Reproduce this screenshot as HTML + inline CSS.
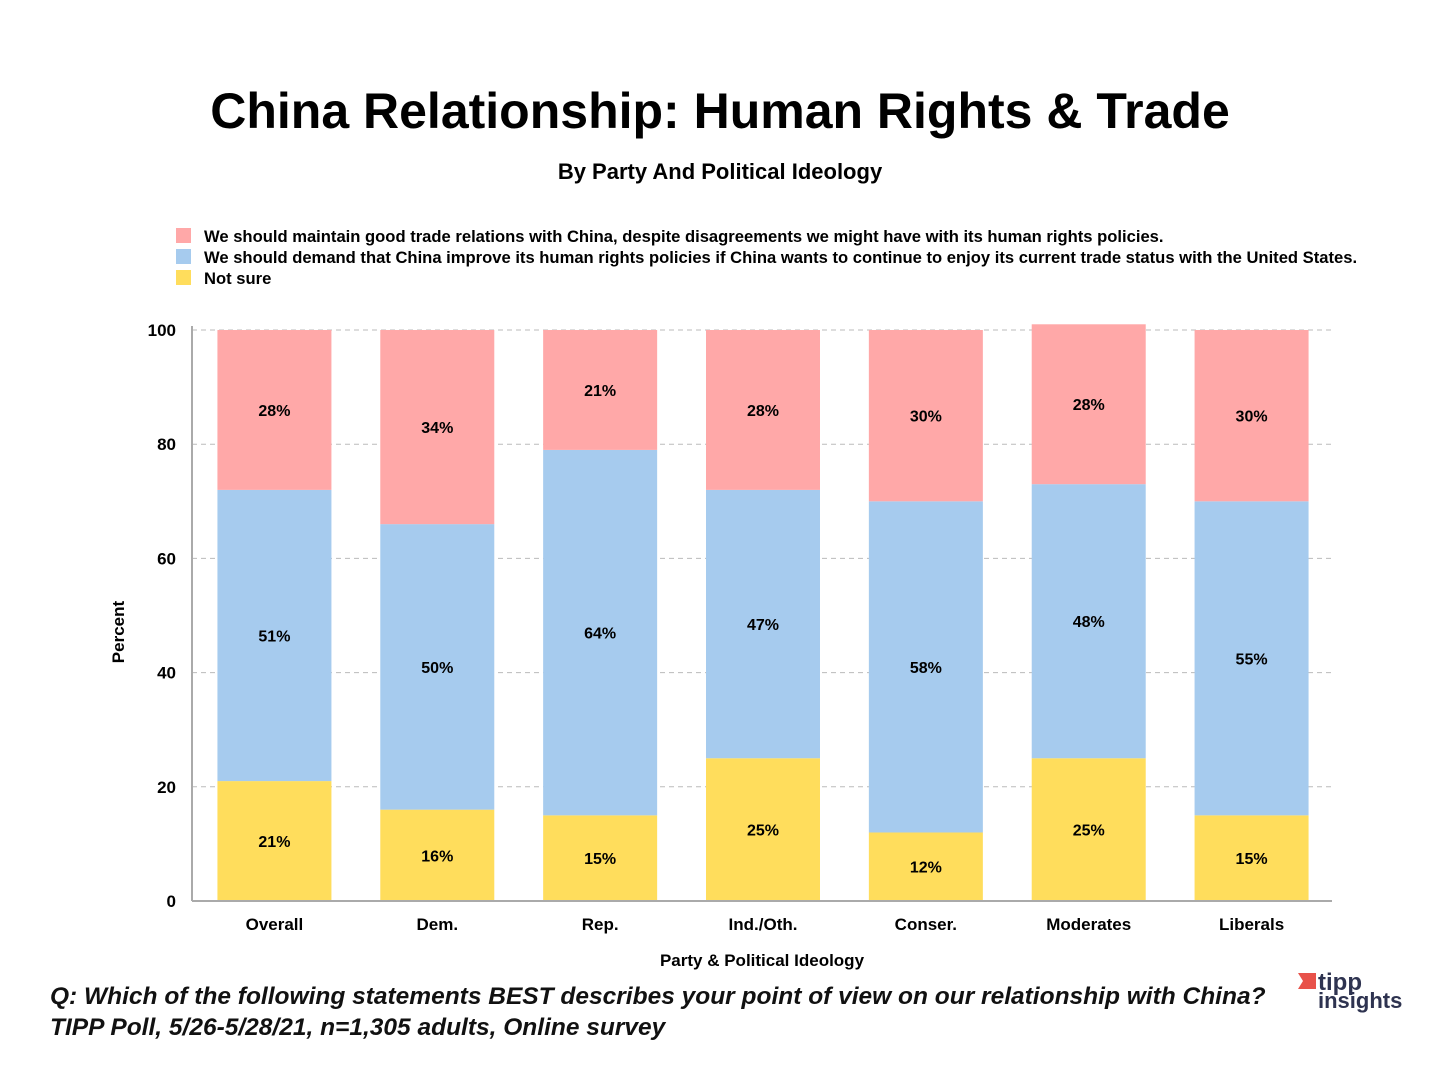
<!DOCTYPE html>
<html><head><meta charset="utf-8"><style>
body{margin:0;background:#fff;width:1440px;height:1080px;overflow:hidden;font-family:"Liberation Sans",sans-serif}
</style></head><body>
<svg width="1440" height="1080" xmlns="http://www.w3.org/2000/svg">
<text x="720" y="128" text-anchor="middle" font-size="50" font-weight="bold" fill="#000">China Relationship:  Human Rights &amp; Trade</text>
<text x="720" y="179" text-anchor="middle" font-size="22" font-weight="bold" fill="#000">By Party And Political Ideology</text>
<g font-size="16.6" font-weight="bold">
<rect x="176" y="228" width="15" height="15" fill="#FFA8A8"/>
<text x="204" y="242">We should maintain good trade relations with China, despite disagreements we might have with its human rights policies.</text>
<rect x="176" y="249" width="15" height="15" fill="#A6CBEE"/>
<text x="204" y="263">We should demand that China improve its human rights policies if China wants to continue to enjoy its current trade status with the United States.</text>
<rect x="176" y="270" width="15" height="15" fill="#FFDD5C"/>
<text x="204" y="284">Not sure</text>
</g>
<g id="grid"></g><g id="bars"></g><g id="axes"></g>
<text x="762" y="966" text-anchor="middle" font-size="17" font-weight="bold">Party &amp; Political Ideology</text>
<text transform="translate(124,632) rotate(-90)" text-anchor="middle" font-size="17" font-weight="bold">Percent</text>
<g font-size="24.5" font-style="italic" font-weight="bold" fill="#111">
<text x="50" y="1004">Q:  Which of the following statements BEST describes your point of view on our relationship with China?</text>
<text x="50" y="1035">TIPP Poll, 5/26-5/28/21, n=1,305 adults, Online survey</text>
</g>
<g>
<path d="M1298 973 h18 v16 h-18 l5 -8 z" fill="#E8524A"/>
<text x="1318" y="990" font-size="24" font-weight="bold" fill="#2E3350">tipp</text>
<text x="1318" y="1008" font-size="22" font-weight="bold" fill="#2E3350">insights</text>
</g>
</svg>
<script>
const categories=["Overall","Dem.","Rep.","Ind./Oth.","Conser.","Moderates","Liberals"];
const notSure=[21,16,15,25,12,25,15];
const demand=[51,50,64,47,58,48,55];
const maintain=[28,34,21,28,30,28,30];
const yTicks=[0,20,40,60,80,100];
const NS="http://www.w3.org/2000/svg";
const x0=192,x1=1332,yTop=330,yBot=901;
const y=v=>yBot-(v/100)*(yBot-yTop);
const step=(x1-x0)/categories.length;
const cx=i=>x0+step*(i+0.5)+1;
const bw=114;
function mk(tag,attrs,parent){const e=document.createElementNS(NS,tag);for(const k in attrs)e.setAttribute(k,attrs[k]);document.getElementById(parent).appendChild(e);return e;}
yTicks.forEach(t=>{
 if(t>0){const l=mk('line',{x1:x0,x2:x1,y1:y(t),y2:y(t),stroke:'#bbb','stroke-dasharray':'5,4'},'grid');
 
 }
 const tx=mk('text',{x:176,y:y(t)+6,'text-anchor':'end','font-size':17,'font-weight':'bold'},'axes');tx.textContent=t;
 
 
});
const series=[[notSure,'#FFDD5C','notsure'],[demand,'#A6CBEE','demand'],[maintain,'#FFA8A8','maintain']];
categories.forEach((c,i)=>{
 let base=0;
 series.forEach(([arr,col,nm])=>{
  const v=arr[i];
  const r=mk('rect',{x:cx(i)-bw/2,y:y(base+v),width:bw,height:y(base)-y(base+v),fill:col},'bars');
  
  
  const t=mk('text',{x:cx(i),y:(y(base)+y(base+v))/2+6,'text-anchor':'middle','font-size':16,'font-weight':'bold'},'bars');
  t.textContent=v+'%';
  
  
  base+=v;
 });
 const xl=mk('text',{x:cx(i),y:930,'text-anchor':'middle','font-size':17,'font-weight':'bold'},'axes');
 xl.textContent=c;
 
 
});
const ax=mk('line',{x1:x0,x2:x0,y1:yTop-4,y2:yBot,stroke:'#aaa','stroke-width':2},'axes');


const bx=mk('line',{x1:x0,x2:x1,y1:yBot,y2:yBot,stroke:'#aaa','stroke-width':2},'axes');


</script>
</body></html>
